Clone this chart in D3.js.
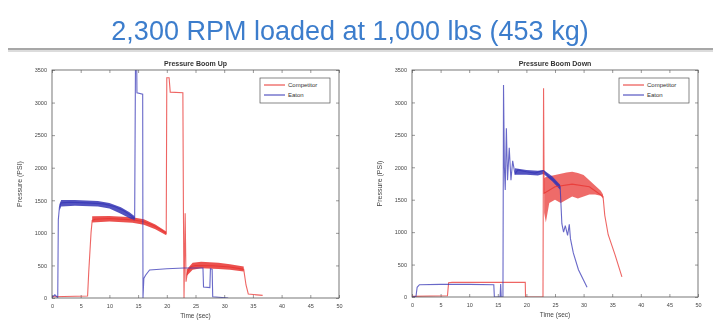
<!DOCTYPE html>
<html>
<head>
<meta charset="utf-8">
<script src="https://cdn.jsdelivr.net/npm/d3@7"></script>
<style>
    body { margin: 0; background: #fff; }
    svg { display: block; filter: blur(0.45px); }
</style>
</head>
<body>
<div class="chart"></div>
<script>
// [time (sec), pressure (psi)]
const upCompetitor = [
    [0, 20], [6.2, 30], [6.4, 400], [6.8, 1000], [7.0, 1190], [7.5, 1210], [10, 1220], [14, 1200],
    [16, 1170], [17.5, 1120], [19, 1050], [19.9, 990], [20.0, 3380], [20.4, 3380], [20.6, 3160],
    [22.8, 3150], [22.9, 1300], [23.0, 0], [23.2, 1300], [23.35, 250], [23.6, 400], [24.2, 480],
    [25, 500], [28, 495], [31, 475], [33.4, 440], [33.8, 200], [34.2, 60], [36.7, 40]
];
const upEaton = [
    [0, 10], [0.5, 50], [1.0, 5], [1.1, 1200], [1.3, 1400], [1.6, 1460], [3, 1470], [6, 1460],
    [9, 1445], [11, 1400], [12.5, 1340], [13.5, 1280], [14.4, 1220], [14.55, 3700], [14.75, 3700],
    [14.8, 3150], [15.8, 3130], [15.85, 0], [16.0, 300], [16.3, 350], [17, 430], [20, 450],
    [23, 460], [26.3, 460], [26.4, 170], [27.5, 160], [27.6, 450], [27.9, 440], [28, 20], [30.7, 0]
];
const downCompetitor = [
    [0, 10], [6.2, 20], [6.4, 220], [7, 225], [19.8, 225], [19.85, 0], [22.9, 0], [23.0, 3220],
    [23.1, 1600], [25, 1700], [28, 1740], [31, 1700], [33.4, 1550], [33.7, 1260], [34.3, 960],
    [35.5, 650], [36.7, 310]
];
const downEaton = [
    [0, 0], [0.7, 10], [0.9, 150], [1.3, 190], [5, 195], [10, 195], [14.3, 190], [14.4, 0],
    [15.4, 0], [15.5, 200], [15.6, 0], [15.9, 0], [16.0, 3270], [16.15, 2000], [16.3, 1650],
    [16.5, 2600], [16.7, 1800], [17.0, 2300], [17.3, 1800], [17.6, 2100], [18, 1900], [18.5, 1960],
    [20, 1930], [21.5, 1910], [22.5, 1940], [23, 1950], [24, 1850], [25, 1780], [25.9, 1700],
    [26.2, 1130], [26.5, 1000], [26.8, 1100], [27.2, 950], [27.5, 1120], [27.7, 900], [28.2, 680],
    [29.1, 420], [30, 260], [30.6, 150]
];

// noisy thick parts of the traces: [time, low, high]
const upCompetitorBand = [
    [7, 1160, 1255], [10, 1175, 1260], [14, 1155, 1240], [16, 1125, 1210], [18, 1055, 1130],
    [19.9, 965, 1020]
];
const upCompetitorBand2 = [
    [23.5, 340, 440], [24.5, 435, 540], [26, 455, 555], [29, 445, 540], [31, 435, 520],
    [33.4, 405, 485]
];
const upEatonBand = [
    [1.3, 1340, 1440], [1.6, 1405, 1505], [4, 1415, 1505], [8, 1405, 1490], [10, 1375, 1460],
    [12, 1295, 1395], [13.5, 1225, 1315], [14.4, 1185, 1255]
];
const downCompetitorBand = [
    [23.1, 1300, 1830], [23.4, 1150, 1850], [24, 1450, 1860], [25, 1500, 1880], [26, 1450, 1900],
    [27, 1500, 1920], [28, 1550, 1930], [29, 1520, 1910], [30, 1550, 1880], [31, 1580, 1800],
    [32, 1580, 1720], [33, 1560, 1640], [33.4, 1520, 1580]
];
const downEatonBand = [
    [18, 1885, 1985], [20, 1885, 1960], [22, 1875, 1945], [23, 1895, 1960], [24.5, 1785, 1860],
    [25.9, 1655, 1730]
];

const xTicks = [0, 5, 10, 15, 20, 25, 30, 35, 40, 45, 50];
const yTicks = [0, 500, 1000, 1500, 2000, 2500, 3000, 3500];
const seriesNames = ['Competitor', 'Eaton'];

const colors = { Competitor: '#e8322f', Eaton: '#3535b5' };

const svg = d3.select('.chart')
    .append('svg')
    .attr('width', 713)
    .attr('height', 320)
    .style('font-family', 'Liberation Sans, Arial, sans-serif');

svg.append('text')
    .attr('x', 350)
    .attr('y', 40)
    .attr('text-anchor', 'middle')
    .attr('font-size', 27)
    .attr('fill', '#3c7dcc')
    .text('2,300 RPM loaded at 1,000 lbs (453 kg)');

svg.append('line')
    .attr('x1', 8).attr('x2', 713)
    .attr('y1', 49).attr('y2', 49)
    .attr('stroke', '#8a8a8a')
    .attr('stroke-width', 1.5);
svg.append('line')
    .attr('x1', 8).attr('x2', 713)
    .attr('y1', 51).attr('y2', 51)
    .attr('stroke', '#dcdcdc')
    .attr('stroke-width', 2);

function drawPanel(id, title, box, lines, bands) {
    const x = d3.scaleLinear().domain([0, 50]).range([box.left, box.right]);
    const y = d3.scaleLinear().domain([0, 3500]).range([box.bottom, box.top]);
    const g = svg.append('g');

    g.append('clipPath').attr('id', id)
        .append('rect')
        .attr('x', box.left).attr('y', box.top)
        .attr('width', box.right - box.left).attr('height', box.bottom - box.top);

    const tickStyle = sel => {
        sel.select('.domain').remove();
        sel.selectAll('line').attr('stroke', '#555').attr('stroke-width', 0.6);
        sel.selectAll('text').attr('font-size', 5.5).attr('fill', '#444');
    };

    g.append('g').attr('transform', `translate(0,${box.bottom})`)
        .call(d3.axisBottom(x).tickValues(xTicks).tickSizeInner(-3).tickPadding(6).tickFormat(d3.format('d')))
        .call(tickStyle);
    g.append('g').attr('transform', `translate(0,${box.top})`)
        .call(d3.axisTop(x).tickValues(xTicks).tickSizeInner(-3).tickFormat(''))
        .call(tickStyle);
    g.append('g').attr('transform', `translate(${box.left},0)`)
        .call(d3.axisLeft(y).tickValues(yTicks).tickSizeInner(-3).tickPadding(5).tickFormat(d3.format('d')))
        .call(tickStyle);
    g.append('g').attr('transform', `translate(${box.right},0)`)
        .call(d3.axisRight(y).tickValues(yTicks).tickSizeInner(-3).tickFormat(''))
        .call(tickStyle);

    const plot = g.append('g').attr('clip-path', `url(#${id})`);

    const area = d3.area()
        .x(d => x(d[0]))
        .y0(d => y(d[1]))
        .y1(d => y(d[2]));
    bands.forEach(b => {
        plot.append('path')
            .attr('d', area(b.values))
            .attr('fill', colors[b.name])
            .attr('opacity', b.opacity || 0.85);
    });

    const line = d3.line().x(d => x(d[0])).y(d => y(d[1]));
    lines.forEach(s => {
        plot.append('path')
            .attr('d', line(s.values))
            .attr('fill', 'none')
            .attr('stroke', colors[s.name])
            .attr('stroke-width', 1.1)
            .attr('stroke-opacity', 0.75);
    });

    g.append('rect')
        .attr('x', box.left).attr('y', box.top)
        .attr('width', box.right - box.left).attr('height', box.bottom - box.top)
        .attr('fill', 'none')
        .attr('stroke', '#555')
        .attr('stroke-width', 0.8);

    const cx = (box.left + box.right) / 2;
    g.append('text')
        .attr('x', cx).attr('y', box.top - 4)
        .attr('text-anchor', 'middle')
        .attr('font-size', 7).attr('font-weight', 'bold')
        .attr('fill', '#333')
        .text(title);
    g.append('text')
        .attr('x', cx).attr('y', box.bottom + 20)
        .attr('text-anchor', 'middle')
        .attr('font-size', 6.5).attr('fill', '#444')
        .text('Time (sec)');
    g.append('text')
        .attr('transform', `translate(${box.left - 30},${(box.top + box.bottom) / 2}) rotate(-90)`)
        .attr('text-anchor', 'middle')
        .attr('font-size', 7).attr('fill', '#444')
        .text('Pressure (PSI)');

    // legend, top right corner
    const lg = g.append('g').attr('transform', `translate(${box.right - 79},${box.top + 8})`);
    lg.append('rect')
        .attr('width', 70).attr('height', 25)
        .attr('fill', '#fff').attr('stroke', '#555').attr('stroke-width', 0.7);
    seriesNames.forEach((name, i) => {
        lg.append('line')
            .attr('x1', 4).attr('x2', 25)
            .attr('y1', 7 + i * 10).attr('y2', 7 + i * 10)
            .attr('stroke', colors[name]).attr('stroke-width', 1);
        lg.append('text')
            .attr('x', 28).attr('y', 9 + i * 10)
            .attr('font-size', 6).attr('fill', '#333')
            .text(name);
    });
}

drawPanel('clipUp', 'Pressure Boom Up', { left: 52, right: 339, top: 70, bottom: 298 },
    [{ name: 'Competitor', values: upCompetitor }, { name: 'Eaton', values: upEaton }],
    [{ name: 'Competitor', values: upCompetitorBand }, { name: 'Competitor', values: upCompetitorBand2 },
     { name: 'Eaton', values: upEatonBand }]);

drawPanel('clipDown', 'Pressure Boom Down', { left: 412, right: 698, top: 70, bottom: 297 },
    [{ name: 'Competitor', values: downCompetitor }, { name: 'Eaton', values: downEaton }],
    [{ name: 'Competitor', values: downCompetitorBand, opacity: 0.72 }, { name: 'Eaton', values: downEatonBand }]);
</script>
</body>
</html>
